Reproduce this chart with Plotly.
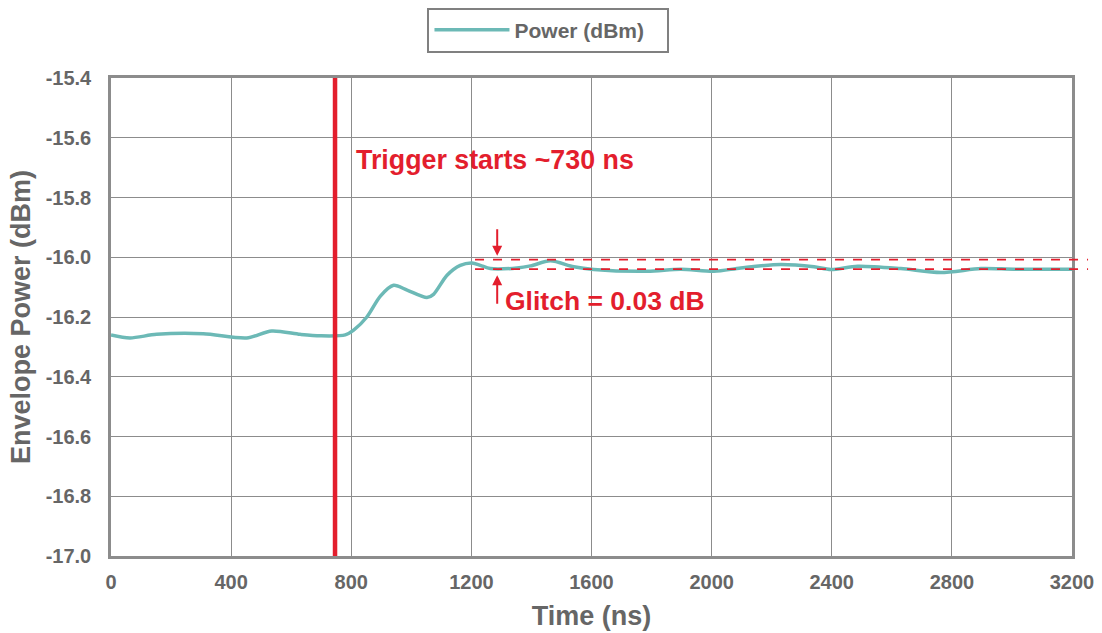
import plotly.graph_objects as go

time_ns = [0, 63, 152, 307, 452, 535, 630, 697, 780, 808, 852, 897, 941, 986, 1052, 1074,
           1119, 1163, 1202, 1230, 1263, 1352, 1397, 1463, 1541, 1608, 1786, 1897, 2008,
           2097, 2230, 2341, 2397, 2486, 2630, 2763, 2897, 3007, 3200]
power_dbm = [-16.26, -16.27, -16.258, -16.256, -16.27, -16.247, -16.258, -16.263, -16.26,
             -16.244, -16.2, -16.13, -16.094, -16.11, -16.135, -16.124, -16.06, -16.027,
             -16.019, -16.027, -16.038, -16.036, -16.029, -16.012, -16.032, -16.041,
             -16.047, -16.04, -16.047, -16.036, -16.024, -16.032, -16.041, -16.03,
             -16.038, -16.051, -16.038, -16.04, -16.04]

trigger_ns = 746
glitch_upper = -16.008
glitch_lower = -16.04
x_ticks = [0, 400, 800, 1200, 1600, 2000, 2400, 2800, 3200]
y_ticks = [-15.4, -15.6, -15.8, -16.0, -16.2, -16.4, -16.6, -16.8, -17.0]

RED = "#e31e2d"
TEAL = "#6cb9b6"
GRAY = "#666666"
FONT = "Liberation Sans"

fig = go.Figure()
fig.add_trace(go.Scatter(
    x=time_ns, y=power_dbm, mode="lines",
    name="<b>Power (dBm)</b>\u00a0\u00a0\u00a0",
    line=dict(color=TEAL, width=3.5, shape="spline", smoothing=0.8),
))

fig.add_shape(type="line", xref="x", yref="y", x0=trigger_ns, x1=trigger_ns,
              y0=-17.0, y1=-15.4, line=dict(color=RED, width=4.5))
for yv in (glitch_upper, glitch_lower):
    fig.add_shape(type="line", xref="paper", yref="y", x0=0.3788, x1=1.0167,
                  y0=yv, y1=yv, line=dict(color=RED, width=1.8, dash="dash"))

fig.add_annotation(x=1286, y=glitch_upper, xref="x", yref="y", text="", showarrow=True,
                   arrowhead=2, arrowsize=1, arrowwidth=2, arrowcolor=RED,
                   ax=0, ay=-32, standoff=4)
fig.add_annotation(x=1286, y=glitch_lower, xref="x", yref="y", text="", showarrow=True,
                   arrowhead=2, arrowsize=1, arrowwidth=2, arrowcolor=RED,
                   ax=0, ay=36, standoff=6)
fig.add_annotation(x=1305, y=-16.145, xref="x", yref="y", xanchor="left", yanchor="middle",
                   text="<b>Glitch = 0.03 dB</b>", showarrow=False,
                   font=dict(family=FONT, size=26.5, color=RED))
fig.add_annotation(x=810, y=-15.673, xref="x", yref="y", xanchor="left", yanchor="middle",
                   text="<b>Trigger starts ~730 ns</b>", showarrow=False,
                   font=dict(family=FONT, size=26.8, color=RED))

fig.update_layout(
    width=1102, height=633,
    margin=dict(l=111, r=30, t=78, b=77),
    plot_bgcolor="white", paper_bgcolor="white",
    font=dict(family=FONT, color=GRAY),
    showlegend=True,
    legend=dict(x=0.4977, y=0.988, xref="container", yref="container", xanchor="center",
                yanchor="top", orientation="h", bordercolor="#808080", borderwidth=2,
                font=dict(family=FONT, size=21, color=GRAY), itemwidth=75),
    xaxis=dict(range=[0, 3200], tickvals=x_ticks, ticktext=[f"<b>{v}</b>" for v in x_ticks],
               showgrid=True, gridcolor="#8c8c8c", gridwidth=1.2, showline=True,
               linecolor="#8c8c8c", linewidth=2.5, mirror=True, ticks="", zeroline=False,
               ticklabelstandoff=6, automargin=False,
               tickfont=dict(family=FONT, size=20, color=GRAY),
               title=dict(text="<b>Time (ns)</b>", font=dict(family=FONT, size=27, color=GRAY),
                          standoff=15)),
    yaxis=dict(range=[-17.0, -15.4], tickvals=y_ticks,
               ticktext=[f"<b>{v:.1f}</b>" for v in y_ticks],
               showgrid=True, gridcolor="#8c8c8c", gridwidth=1.2, showline=True,
               linecolor="#8c8c8c", linewidth=2.5, mirror=True, ticks="", zeroline=False,
               ticklabelstandoff=13, automargin=False,
               tickfont=dict(family=FONT, size=20, color=GRAY),
               title=dict(text="<b>Envelope Power (dBm)</b>",
                          font=dict(family=FONT, size=27, color=GRAY), standoff=8)),
)

fig.write_html("out.html", config={"displayModeBar": False},
               post_script="document.body.style.margin='0';")
